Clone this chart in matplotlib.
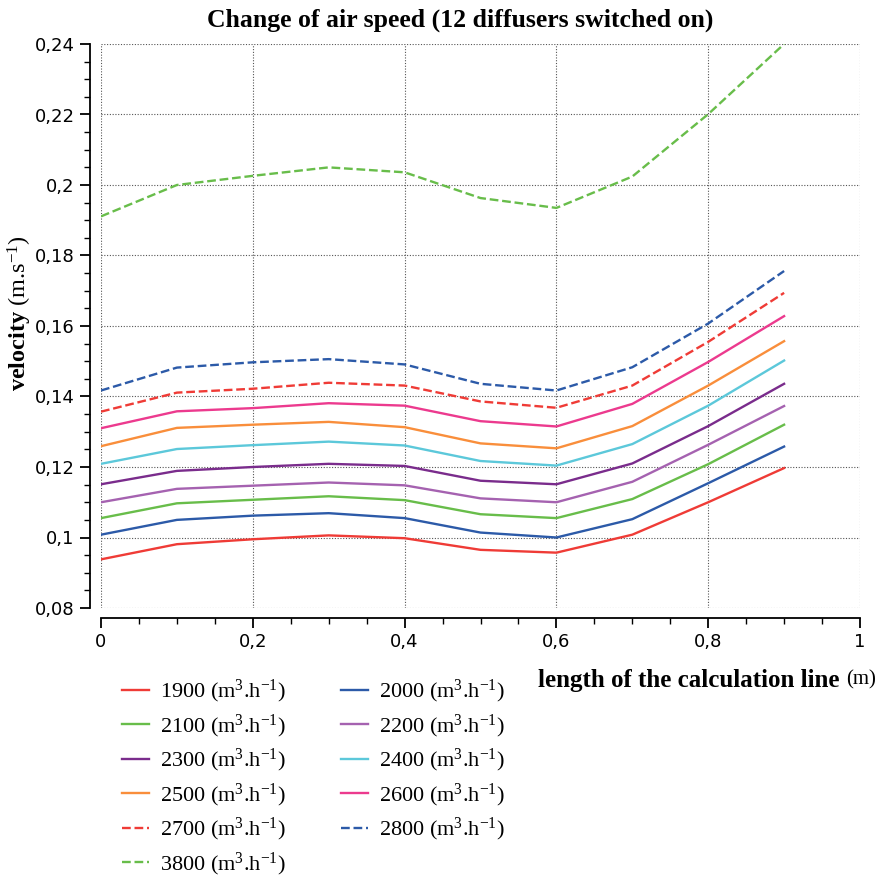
import matplotlib
matplotlib.use("Agg")
import matplotlib.pyplot as plt
from matplotlib.ticker import MultipleLocator, FuncFormatter

plt.rcParams['mathtext.fontset'] = 'custom'
plt.rcParams['mathtext.rm'] = 'Liberation Serif'
plt.rcParams['mathtext.it'] = 'Liberation Serif:italic'
plt.rcParams['mathtext.bf'] = 'Liberation Serif:bold'

# distance along the calculation line (m)
length = [0, 0.1, 0.2, 0.3, 0.4, 0.5, 0.6, 0.7, 0.8, 0.9]

# air flow rates (m3/h) and velocity readings (m/s)
flows = [1900, 2100, 2300, 2500, 2700, 3800, 2000, 2200, 2400, 2600, 2800]
v_1900 = [0.0938, 0.0981, 0.0995, 0.1006, 0.0998, 0.0965, 0.0957, 0.1008, 0.1100, 0.1197]
v_2000 = [0.1008, 0.1050, 0.1062, 0.1069, 0.1055, 0.1014, 0.1000, 0.1052, 0.1154, 0.1258]
v_2100 = [0.1055, 0.1097, 0.1107, 0.1117, 0.1106, 0.1066, 0.1055, 0.1109, 0.1208, 0.1320]
v_2200 = [0.1100, 0.1138, 0.1147, 0.1156, 0.1148, 0.1111, 0.1100, 0.1158, 0.1263, 0.1373]
v_2300 = [0.1151, 0.1189, 0.1200, 0.1209, 0.1203, 0.1161, 0.1151, 0.1210, 0.1316, 0.1436]
v_2400 = [0.1209, 0.1251, 0.1262, 0.1272, 0.1261, 0.1217, 0.1204, 0.1265, 0.1374, 0.1502]
v_2500 = [0.1259, 0.1311, 0.1320, 0.1328, 0.1313, 0.1267, 0.1253, 0.1316, 0.1431, 0.1557]
v_2600 = [0.1310, 0.1358, 0.1367, 0.1381, 0.1374, 0.1330, 0.1315, 0.1379, 0.1498, 0.1628]
v_2700 = [0.1357, 0.1411, 0.1422, 0.1439, 0.1431, 0.1386, 0.1368, 0.1431, 0.1555, 0.1694]
v_2800 = [0.1417, 0.1482, 0.1497, 0.1506, 0.1491, 0.1436, 0.1417, 0.1483, 0.1607, 0.1756]
v_3800 = [0.1911, 0.2000, 0.2026, 0.2050, 0.2036, 0.1963, 0.1935, 0.2024, 0.2201, 0.2400]

series = {1900: v_1900, 2000: v_2000, 2100: v_2100, 2200: v_2200,
          2300: v_2300, 2400: v_2400, 2500: v_2500, 2600: v_2600,
          2700: v_2700, 2800: v_2800, 3800: v_3800}

styles = {
    1900: ('#ef3b36', '-'),
    2000: ('#2c5aa8', '-'),
    2100: ('#68bd4a', '-'),
    2200: ('#a562b0', '-'),
    2300: ('#7a2c8c', '-'),
    2400: ('#5cc8da', '-'),
    2500: ('#f98e3b', '-'),
    2600: ('#ec3a8e', '-'),
    2700: ('#ef3b36', '--'),
    2800: ('#2c5aa8', '--'),
    3800: ('#68bd4a', '--'),
}

W, H = 886, 877
fig = plt.figure(figsize=(W / 100, H / 100), dpi=100)
ax = fig.add_axes([101 / W, 1 - 608 / H, 759 / W, 564 / H])

for f in flows:
    color, ls = styles[f]
    ax.plot(length, series[f], color=color, linestyle=ls, linewidth=1.7,
            label=f"{f} (m$^3$.h$^{{-1}}$)")

ax.set_xlim(0, 1)
ax.set_ylim(0.08, 0.24)
ax.xaxis.set_major_locator(MultipleLocator(0.2))
ax.xaxis.set_minor_locator(MultipleLocator(0.05))
ax.yaxis.set_major_locator(MultipleLocator(0.02))
ax.yaxis.set_minor_locator(MultipleLocator(0.005))

fmt = FuncFormatter(lambda v, p: f"{round(v, 3):g}".replace('.', ','))
ax.xaxis.set_major_formatter(fmt)
ax.yaxis.set_major_formatter(fmt)

for s in ['top', 'right']:
    ax.spines[s].set_visible(False)
ax.spines['left'].set_position(('outward', 8))
ax.spines['bottom'].set_position(('outward', 7))
ax.spines['left'].set_linewidth(1.3)
ax.spines['bottom'].set_linewidth(1.3)
ax.tick_params(which='major', length=7, width=1.3, labelsize=13, pad=4)
ax.tick_params(which='minor', length=4, width=1.0)

ax.grid(True, which='major', linestyle=(0, (1, 1.5)), color='#555555', linewidth=0.8)

fig.text(460 / W, 1 - 20 / H, "Change of air speed (12 diffusers switched on)",
         ha='center', va='center', fontsize=18.5, fontweight='bold',
         family='Liberation Serif')
fig.text(20 / W, 1 - 313 / H, r"$\mathbf{velocity}$ (m.s$^{-1}$)",
         ha='center', va='center', rotation=90, fontsize=17.5,
         family='Liberation Serif')
fig.text(840 / W, 1 - 680 / H, "length of the calculation line",
         ha='right', va='center', fontsize=18, fontweight='bold',
         family='Liberation Serif')
fig.text(846 / W, 1 - 680 / H, "(m)", ha='left', va='center', fontsize=15,
         family='Liberation Serif')

fig.legend(loc='upper left', bbox_to_anchor=(113 / W, 1 - 669 / H), ncol=2,
           frameon=False, prop={'family': 'Liberation Serif', 'size': 16},
           handlelength=1.2, handletextpad=0.5, columnspacing=2.5,
           labelspacing=0.33, borderaxespad=0)

fig.savefig("out.png", dpi=100)
